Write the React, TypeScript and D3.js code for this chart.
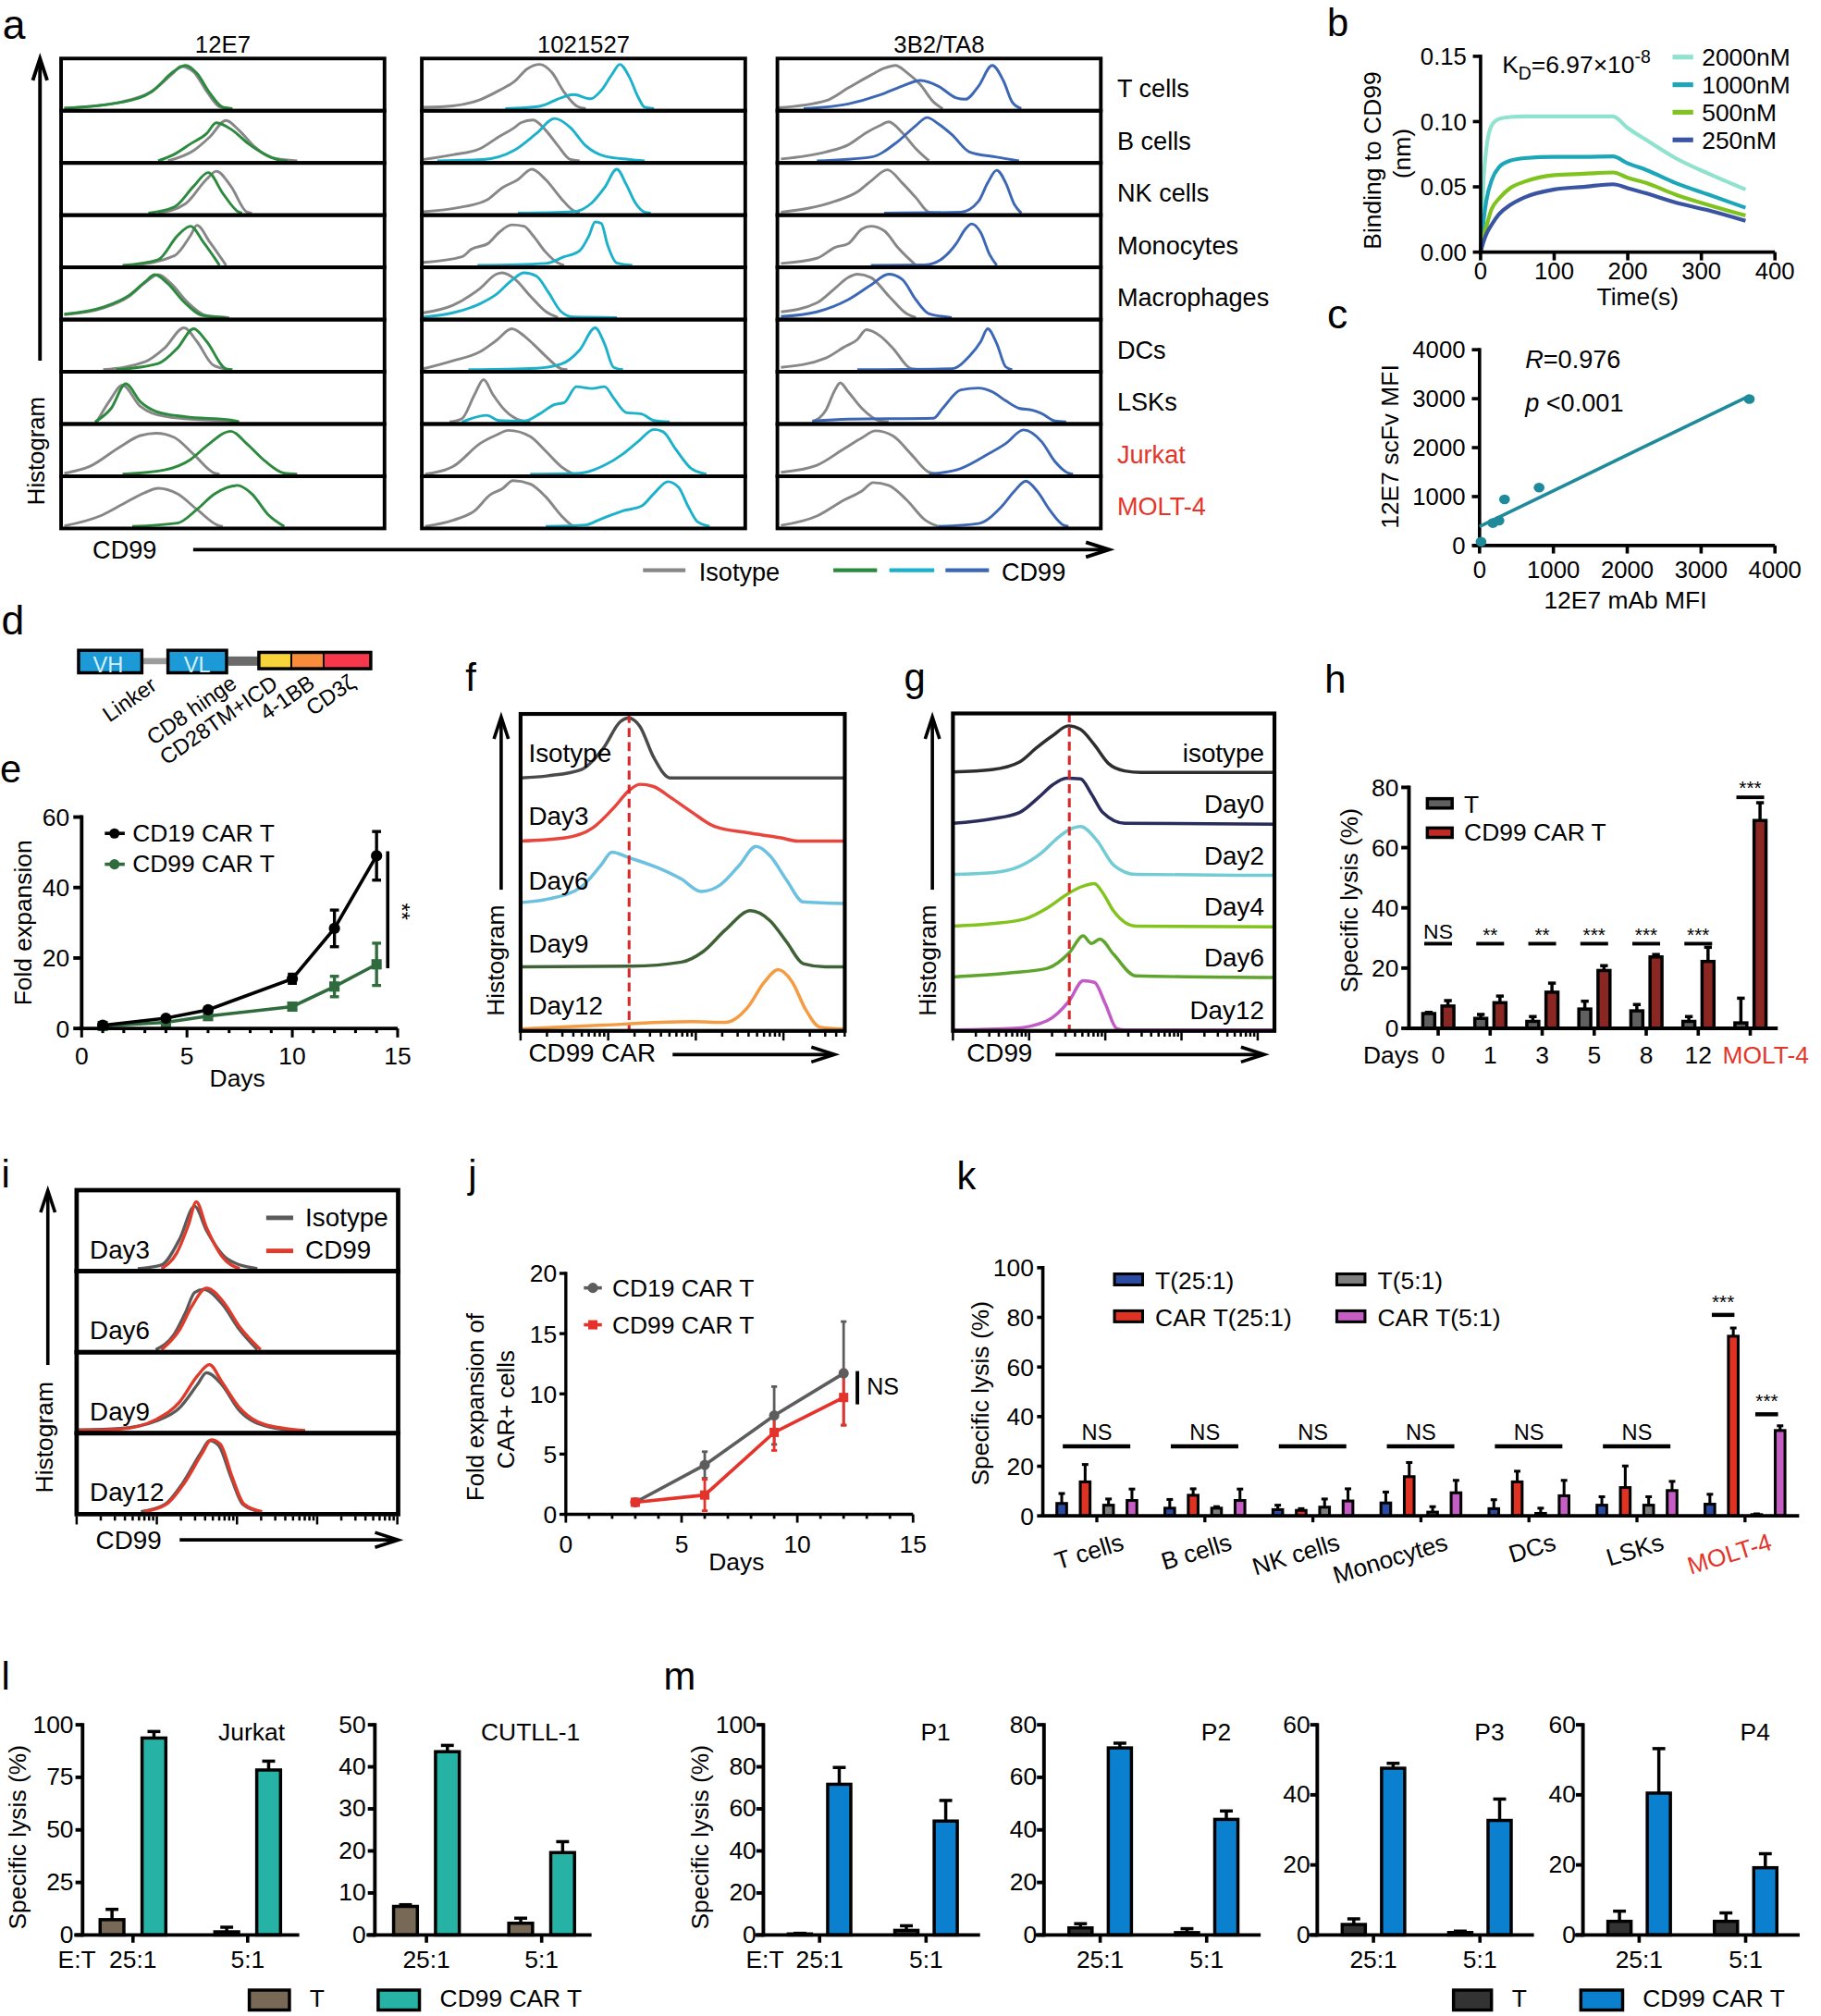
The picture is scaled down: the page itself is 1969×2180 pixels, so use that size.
import React from 'react';
import * as d3 from 'd3';

// ================= DATA =================
// ---- panel a (histograms: [x fraction of box, height fraction of row]) ----
const aCells = ['T cells', 'B cells', 'NK cells', 'Monocytes', 'Macrophages', 'DCs', 'LSKs', 'Jurkat', 'MOLT-4'];
const aClones = ['12E7', '1021527', '3B2/TA8'];

const a12E7Iso = [
  [[0.01,0.01],[0.19,0.15],[0.28,0.37],[0.35,0.78],[0.37,0.9],[0.41,0.78],[0.45,0.37],[0.49,0.04],[0.52,0]],
  [[0.33,0],[0.41,0.22],[0.46,0.51],[0.51,0.86],[0.55,0.65],[0.6,0.29],[0.65,0.07],[0.73,0]],
  [[0.3,0],[0.385,0.2],[0.45,0.72],[0.48,0.89],[0.525,0.57],[0.575,0.02],[0.59,0]],
  [[0.22,0],[0.35,0.2],[0.4,0.63],[0.42,0.85],[0.46,0.49],[0.51,0]],
  [[0.01,0.06],[0.13,0.2],[0.21,0.45],[0.26,0.74],[0.3,0.91],[0.34,0.72],[0.39,0.33],[0.45,0.04],[0.52,0]],
  [[0.13,0],[0.26,0.17],[0.32,0.46],[0.38,0.89],[0.42,0.6],[0.47,0.1],[0.52,0]],
  [[0.11,0],[0.15,0.45],[0.19,0.78],[0.245,0.33],[0.32,0.12],[0.4,0.06],[0.52,0.02],[0.55,0]],
  [[0.01,0.02],[0.09,0.17],[0.18,0.57],[0.245,0.82],[0.295,0.87],[0.35,0.78],[0.41,0.42],[0.475,0.02],[0.49,0]],
  [[0.01,0.01],[0.12,0.22],[0.19,0.47],[0.26,0.72],[0.3,0.81],[0.36,0.69],[0.42,0.36],[0.49,0.01],[0.5,0]],
];
const a12E7CD99 = [
  [[0.01,0.01],[0.19,0.14],[0.28,0.36],[0.35,0.8],[0.385,0.92],[0.42,0.75],[0.46,0.33],[0.5,0.03],[0.53,0]],
  [[0.3,0],[0.35,0.14],[0.4,0.36],[0.45,0.58],[0.48,0.81],[0.53,0.65],[0.58,0.36],[0.63,0.14],[0.68,0.01],[0.7,0]],
  [[0.27,0],[0.35,0.13],[0.41,0.57],[0.455,0.86],[0.5,0.42],[0.55,0.02],[0.56,0]],
  [[0.19,0],[0.3,0.12],[0.36,0.63],[0.4,0.83],[0.44,0.49],[0.49,0]],
  [[0.01,0.07],[0.13,0.22],[0.21,0.47],[0.26,0.76],[0.29,0.91],[0.33,0.72],[0.38,0.33],[0.44,0.04],[0.51,0]],
  [[0.17,0],[0.3,0.13],[0.36,0.46],[0.41,0.87],[0.45,0.6],[0.51,0.02],[0.53,0]],
  [[0.105,0],[0.155,0.29],[0.2,0.81],[0.245,0.43],[0.295,0.22],[0.385,0.11],[0.525,0.04],[0.55,0]],
  [[0.19,0],[0.32,0.09],[0.4,0.31],[0.45,0.6],[0.525,0.91],[0.575,0.64],[0.63,0.28],[0.69,0.02],[0.73,0]],
  [[0.22,0],[0.36,0.07],[0.42,0.36],[0.475,0.69],[0.545,0.87],[0.59,0.69],[0.64,0.25],[0.69,0]],
];
const a1021527Iso = [
  [[0.005,0.03],[0.096,0.06],[0.18,0.19],[0.24,0.39],[0.287,0.58],[0.325,0.84],[0.364,0.94],[0.402,0.77],[0.44,0.35],[0.478,0.06],[0.507,0]],
  [[0.005,0.03],[0.096,0.13],[0.18,0.26],[0.24,0.52],[0.287,0.71],[0.306,0.81],[0.344,0.87],[0.383,0.65],[0.421,0.32],[0.459,0.03],[0.488,0]],
  [[0.005,0.03],[0.115,0.12],[0.201,0.28],[0.249,0.54],[0.297,0.71],[0.34,0.93],[0.383,0.71],[0.431,0.31],[0.469,0.05],[0.488,0]],
  [[0.005,0.06],[0.124,0.18],[0.153,0.34],[0.206,0.47],[0.239,0.7],[0.278,0.86],[0.316,0.83],[0.344,0.63],[0.383,0.28],[0.421,0.05],[0.44,0]],
  [[0.005,0.1],[0.096,0.26],[0.182,0.63],[0.23,0.92],[0.249,0.95],[0.287,0.82],[0.335,0.46],[0.383,0.13],[0.421,0]],
  [[0.005,0.02],[0.096,0.19],[0.182,0.39],[0.23,0.62],[0.278,0.87],[0.316,0.72],[0.344,0.55],[0.383,0.29],[0.431,0.02],[0.45,0]],
  [[0.086,0],[0.124,0.07],[0.163,0.58],[0.191,0.9],[0.22,0.58],[0.258,0.24],[0.306,0.03],[0.335,0]],
  [[0.01,0],[0.096,0.16],[0.182,0.66],[0.23,0.83],[0.268,0.93],[0.335,0.8],[0.383,0.49],[0.431,0.16],[0.469,0]],
  [[0.01,0],[0.096,0.13],[0.163,0.33],[0.211,0.67],[0.249,0.8],[0.282,0.97],[0.335,0.9],[0.383,0.63],[0.431,0.23],[0.469,0.01],[0.48,0]],
];
const a1021527CD99 = [
  [[0.258,0],[0.364,0.05],[0.43,0.23],[0.469,0.3],[0.522,0.21],[0.555,0.39],[0.589,0.74],[0.612,0.94],[0.641,0.68],[0.67,0.23],[0.689,0.03],[0.718,0]],
  [[0.048,0],[0.191,0.03],[0.287,0.23],[0.354,0.58],[0.411,0.9],[0.459,0.71],[0.507,0.32],[0.565,0.1],[0.641,0.03],[0.689,0]],
  [[0.297,0],[0.469,0.03],[0.526,0.22],[0.565,0.54],[0.603,0.93],[0.632,0.61],[0.66,0.22],[0.689,0.02],[0.708,0]],
  [[0.172,0],[0.383,0.04],[0.44,0.18],[0.488,0.31],[0.517,0.63],[0.536,0.92],[0.555,0.89],[0.574,0.44],[0.603,0.05],[0.651,0]],
  [[0.005,0.01],[0.096,0.1],[0.182,0.3],[0.23,0.49],[0.278,0.79],[0.316,0.95],[0.354,0.88],[0.392,0.53],[0.43,0.13],[0.469,0.01],[0.603,0]],
  [[0.144,0],[0.354,0.03],[0.431,0.12],[0.488,0.42],[0.536,0.89],[0.565,0.55],[0.593,0.05],[0.622,0]],
  [[0.124,0],[0.201,0.14],[0.239,0.03],[0.316,0.02],[0.364,0.17],[0.411,0.37],[0.44,0.41],[0.478,0.75],[0.526,0.71],[0.565,0.75],[0.593,0.51],[0.632,0.2],[0.679,0.17],[0.718,0.03],[0.766,0]],
  [[0.335,0],[0.488,0.02],[0.565,0.19],[0.622,0.43],[0.67,0.7],[0.718,0.95],[0.746,0.9],[0.785,0.53],[0.833,0.12],[0.88,0]],
  [[0.383,0],[0.507,0.03],[0.545,0.13],[0.622,0.33],[0.679,0.43],[0.718,0.7],[0.761,0.95],[0.794,0.83],[0.823,0.43],[0.852,0.1],[0.89,0]],
];
const a3B2Iso = [
  [[0.004,0.02],[0.15,0.17],[0.219,0.44],[0.288,0.71],[0.331,0.86],[0.365,0.92],[0.4,0.77],[0.442,0.51],[0.483,0.14],[0.511,0]],
  [[0.011,0.04],[0.15,0.19],[0.219,0.34],[0.275,0.6],[0.317,0.75],[0.344,0.83],[0.386,0.6],[0.428,0.26],[0.469,0]],
  [[0.011,0.02],[0.178,0.25],[0.247,0.45],[0.289,0.68],[0.34,0.92],[0.386,0.64],[0.428,0.33],[0.469,0.02],[0.497,0]],
  [[0.011,0.04],[0.122,0.15],[0.178,0.38],[0.219,0.46],[0.261,0.77],[0.289,0.83],[0.331,0.73],[0.372,0.38],[0.428,0]],
  [[0.011,0.12],[0.122,0.31],[0.178,0.62],[0.219,0.85],[0.247,0.92],[0.289,0.85],[0.344,0.46],[0.4,0.08],[0.428,0]],
  [[0.011,0.05],[0.15,0.25],[0.206,0.48],[0.247,0.64],[0.275,0.85],[0.317,0.72],[0.358,0.45],[0.414,0.02],[0.442,0]],
  [[0.108,0],[0.15,0.25],[0.178,0.68],[0.194,0.83],[0.219,0.64],[0.261,0.29],[0.317,0.02],[0.344,0]],
  [[0.011,0.04],[0.122,0.19],[0.206,0.54],[0.261,0.77],[0.303,0.92],[0.358,0.81],[0.414,0.42],[0.469,0.04],[0.497,0]],
  [[0.011,0.02],[0.122,0.22],[0.206,0.56],[0.261,0.75],[0.296,0.93],[0.344,0.87],[0.4,0.56],[0.456,0.14],[0.497,0]],
];
const a3B2CD99 = [
  [[0.081,0],[0.219,0.1],[0.317,0.29],[0.386,0.48],[0.442,0.6],[0.497,0.48],[0.553,0.23],[0.581,0.2],[0.622,0.48],[0.664,0.92],[0.699,0.59],[0.726,0.14],[0.754,0]],
  [[0.122,0],[0.289,0.08],[0.372,0.41],[0.428,0.75],[0.463,0.92],[0.497,0.79],[0.539,0.56],[0.594,0.19],[0.678,0.08],[0.747,0]],
  [[0.33,0],[0.567,0.02],[0.622,0.25],[0.65,0.64],[0.678,0.91],[0.706,0.64],[0.733,0.18],[0.754,0]],
  [[0.289,0],[0.456,0.01],[0.511,0.15],[0.553,0.46],[0.581,0.77],[0.601,0.88],[0.629,0.69],[0.656,0.23],[0.678,0]],
  [[0.011,0.02],[0.122,0.12],[0.219,0.38],[0.289,0.69],[0.344,0.92],[0.386,0.81],[0.428,0.38],[0.469,0.08],[0.539,0]],
  [[0.247,0],[0.539,0.02],[0.594,0.29],[0.629,0.6],[0.65,0.87],[0.678,0.56],[0.706,0.06],[0.726,0]],
  [[0.108,0.02],[0.219,0.06],[0.483,0.08],[0.511,0.29],[0.567,0.68],[0.622,0.72],[0.664,0.64],[0.706,0.45],[0.747,0.29],[0.789,0.25],[0.817,0.18],[0.858,0.02],[0.893,0]],
  [[0.469,0],[0.567,0.12],[0.65,0.42],[0.706,0.65],[0.761,0.94],[0.817,0.69],[0.858,0.27],[0.9,0.02],[0.914,0]],
  [[0.497,0],[0.622,0.06],[0.692,0.41],[0.733,0.75],[0.768,0.96],[0.803,0.75],[0.844,0.33],[0.886,0.02],[0.9,0]],
];

// ---- panel b ----
const bTime = [0, 4, 8, 15, 25, 40, 60, 100, 140, 180, 200, 225, 265, 310, 360];
const bConc = ['2000nM', '1000nM', '500nM', '250nM'];
const b2000 = [0, 0.055, 0.08, 0.097, 0.102, 0.1035, 0.104, 0.104, 0.104, 0.104, 0.095, 0.086, 0.072, 0.06, 0.048];
const b1000 = [0, 0.024, 0.04, 0.055, 0.065, 0.07, 0.072, 0.073, 0.073, 0.0733, 0.068, 0.063, 0.053, 0.044, 0.034];
const b500 = [0, 0.012, 0.02, 0.033, 0.041, 0.049, 0.054, 0.059, 0.06, 0.061, 0.057, 0.053, 0.044, 0.036, 0.028];
const b250 = [0, 0.008, 0.014, 0.021, 0.029, 0.036, 0.042, 0.048, 0.05, 0.052, 0.049, 0.045, 0.038, 0.032, 0.024];

// ---- panel c ----
const cMabMFI = [20, 180, 263, 338, 806, 3653];
const cScfvMFI = [80, 459, 507, 942, 1183, 2994];

// ---- panel d ----
const dLabels = ['Linker', 'CD8 hinge', 'CD28TM+ICD', '4-1BB', 'CD3ζ'];

// ---- panel e ----
const eDays = [1, 4, 6, 10, 12, 14];
const eCD19 = [0.9, 2.9, 5.3, 14.1, 28.4, 49.0];
const eCD19Err = [0.3, 0.6, 0.5, 1.3, 5.2, 6.9];
const eCD99 = [0.7, 1.75, 3.5, 6.2, 11.9, 18.2];
const eCD99Err = [0.3, 0.4, 0.5, 0.6, 2.9, 6.0];

// ---- panel f (points: [x fraction, y fraction from box top]) ----
const fLabels = ['Isotype', 'Day3', 'Day6', 'Day9', 'Day12'];
const fIsotype = [[0,0.202],[0.085,0.195],[0.188,0.175],[0.256,0.107],[0.308,0.024],[0.333,0.013],[0.368,0.039],[0.41,0.136],[0.462,0.202],[1,0.202]];
const fDay3 = [[0,0.401],[0.137,0.391],[0.222,0.36],[0.291,0.292],[0.333,0.243],[0.368,0.222],[0.41,0.229],[0.462,0.263],[0.53,0.311],[0.598,0.355],[0.701,0.375],[0.803,0.391],[0.855,0.401],[1,0.401]];
const fDay6 = [[0,0.595],[0.085,0.584],[0.188,0.545],[0.248,0.477],[0.282,0.436],[0.333,0.453],[0.427,0.487],[0.496,0.521],[0.556,0.56],[0.615,0.54],[0.675,0.477],[0.726,0.418],[0.769,0.447],[0.821,0.525],[0.872,0.593],[1,0.598]];
const fDay9 = [[0,0.798],[0.342,0.796],[0.496,0.783],[0.564,0.749],[0.632,0.681],[0.709,0.621],[0.769,0.652],[0.821,0.72],[0.872,0.788],[0.94,0.798],[1,0.798]];
const fDay12 = [[0,0.994],[0.256,0.982],[0.427,0.973],[0.53,0.971],[0.632,0.973],[0.701,0.925],[0.752,0.846],[0.795,0.807],[0.838,0.846],[0.88,0.934],[0.923,0.988],[1,0.994]];

// ---- panel g ----
const gLabels = ['isotype', 'Day0', 'Day2', 'Day4', 'Day6', 'Day12'];
const gIsotype = [[0,0.184],[0.121,0.177],[0.207,0.153],[0.259,0.109],[0.31,0.07],[0.359,0.039],[0.397,0.05],[0.44,0.099],[0.483,0.157],[0.534,0.181],[0.586,0.186],[1,0.186]];
const gDay0 = [[0,0.346],[0.121,0.332],[0.207,0.312],[0.267,0.264],[0.31,0.225],[0.353,0.204],[0.397,0.206],[0.431,0.254],[0.466,0.312],[0.534,0.346],[1,0.349]];
const gDay2 = [[0,0.507],[0.121,0.502],[0.207,0.482],[0.276,0.439],[0.328,0.39],[0.362,0.366],[0.397,0.356],[0.448,0.4],[0.5,0.478],[0.569,0.507],[1,0.51]];
const gDay4 = [[0,0.67],[0.121,0.662],[0.224,0.647],[0.293,0.613],[0.362,0.565],[0.397,0.547],[0.44,0.536],[0.466,0.565],[0.5,0.623],[0.569,0.67],[1,0.672]];
const gDay6 = [[0,0.83],[0.172,0.818],[0.293,0.803],[0.362,0.754],[0.405,0.701],[0.431,0.725],[0.457,0.711],[0.5,0.759],[0.569,0.827],[1,0.832]];
const gDay12 = [[0,0.997],[0.19,0.992],[0.293,0.968],[0.362,0.905],[0.405,0.842],[0.44,0.847],[0.474,0.915],[0.509,0.992],[0.534,0.997],[1,0.997]];

// ---- panel h ----
const hGroups = ['0', '1', '3', '5', '8', '12', 'MOLT-4'];
const hT = [4.9, 3.3, 2.3, 6.4, 5.8, 2.3, 1.8];
const hTErr = [0.4, 1.3, 1.6, 2.6, 2.1, 1.6, 8.2];
const hCAR = [7.4, 8.5, 12, 19.2, 23.7, 22.2, 69];
const hCARErr = [1.8, 2.2, 3, 1.6, 0.8, 4.7, 5.9];
const hSig = ['NS', '**', '**', '***', '***', '***', '***'];

// ---- panel i ----
const iDays = ['Day3', 'Day6', 'Day9', 'Day12'];
const iIsotype = [
  [[0.19,0],[0.264,0.05],[0.32,0.4],[0.367,0.85],[0.404,0.52],[0.469,0.13],[0.562,0]],
  [[0.246,0],[0.302,0.2],[0.339,0.51],[0.367,0.78],[0.395,0.82],[0.451,0.63],[0.507,0.27],[0.562,0]],
  [[0.004,0.01],[0.134,0.03],[0.246,0.13],[0.32,0.31],[0.376,0.63],[0.404,0.79],[0.451,0.63],[0.507,0.27],[0.6,0.05],[0.693,0]],
  [[0.2,0],[0.275,0.1],[0.33,0.39],[0.386,0.8],[0.414,0.97],[0.442,0.9],[0.48,0.47],[0.517,0.1],[0.57,0]],
];
const iCD99 = [
  [[0.264,0],[0.311,0.21],[0.348,0.6],[0.372,0.91],[0.404,0.56],[0.451,0.17],[0.507,0]],
  [[0.264,0],[0.32,0.27],[0.358,0.59],[0.404,0.84],[0.46,0.63],[0.507,0.31],[0.572,0]],
  [[0.004,0],[0.134,0.02],[0.246,0.15],[0.32,0.39],[0.376,0.75],[0.413,0.9],[0.451,0.67],[0.507,0.31],[0.581,0.09],[0.711,0]],
  [[0.209,0],[0.279,0.1],[0.335,0.39],[0.391,0.8],[0.419,0.98],[0.447,0.92],[0.484,0.47],[0.521,0.1],[0.577,0]],
];

// ---- panel j ----
const jDays = [3, 6, 9, 12];
const jCD19 = [1.0, 4.1, 8.2, 11.7];
const jCD19Err = [0.2, 1.1, 2.4, 4.3];
const jCD99 = [1.0, 1.6, 6.8, 9.7];
const jCD99Err = [0.2, 1.3, 1.5, 2.3];

// ---- panel k ----
const kCells = ['T cells', 'B cells', 'NK cells', 'Monocytes', 'DCs', 'LSKs', 'MOLT-4'];
const kSeries = ['T(25:1)', 'CAR T(25:1)', 'T(5:1)', 'CAR T(5:1)'];
const kT25 = [5, 3.1, 2.5, 5.2, 2.9, 4.3, 4.7];
const kT25Err = [4, 3.5, 1.8, 4.4, 3.6, 3.4, 4];
const kCAR25 = [13.7, 8.3, 2.2, 15.8, 13.7, 11.4, 72.4];
const kCAR25Err = [7, 2.6, 0.7, 5.7, 4.3, 8.7, 3.3];
const kT5 = [4.3, 3.1, 3.5, 1.5, 1, 4.3, 0.5];
const kT5Err = [2.5, 0.6, 3.3, 2.2, 2.1, 3.4, 0.3];
const kCAR5 = [6.2, 6.2, 6, 9.3, 8.1, 10.2, 34.4];
const kCAR5Err = [4.6, 4.6, 4.9, 5, 6.2, 3.7, 1.9];
const kSig = ['NS', 'NS', 'NS', 'NS', 'NS', 'NS', '***'];

// ---- panel l ----
const lRatios = ['25:1', '5:1'];
const lJurkatT = [7.3, 1.5];
const lJurkatTErr = [4.9, 2.2];
const lJurkatCAR = [93.7, 78.5];
const lJurkatCARErr = [3.1, 4.2];
const lCutllT = [6.8, 2.8];
const lCutllTErr = [0.4, 1.2];
const lCutllCAR = [43.6, 19.6];
const lCutllCARErr = [1.5, 2.6];

// ---- panel m ----
const mPatients = ['P1', 'P2', 'P3', 'P4'];
const mMax = [100, 80, 60, 60];
const mT = [[0.5, 2.2], [2.7, 0.9], [3.0, 0.7], [3.9, 3.9]];
const mTErr = [[0.3, 2.2], [1.6, 1.5], [1.6, 0.4], [2.9, 2.4]];
const mCAR = [[71.7, 54.2], [71.2, 44.0], [47.6, 32.7], [40.5, 19.2]];
const mCARErr = [[8.0, 9.8], [1.8, 3.2], [1.4, 6.1], [12.7, 4.0]];

// ================= HELPERS =================
const FONT = "'Liberation Sans', Arial, Helvetica, sans-serif";

const Txt = ({ x, y, s = 19, a = 'start', c = '#000', r = 0, it = false, children }: any) => (
  <text x={x} y={y} fontSize={s} textAnchor={a} fill={c} fontFamily={FONT}
    fontStyle={it ? 'italic' : undefined}
    transform={r ? `rotate(${r} ${x} ${y})` : undefined}>{children}</text>
);

const monoPath = (pts: number[][], fx: (v: number) => number, fy: (v: number) => number) =>
  d3.line<number[]>().x((p) => fx(p[0])).y((p) => fy(p[1])).curve(d3.curveMonotoneX)(pts) || '';

const ArrowUp = ({ x, yBot, yTip, sw = 2.6 }: any) => (
  <g stroke="#000" strokeWidth={sw} fill="none">
    <line x1={x} x2={x} y1={yBot} y2={yTip + 1} />
    <polyline points={`${x - 5.6},${yTip + 17} ${x},${yTip} ${x + 5.6},${yTip + 17}`} />
  </g>
);
const ArrowRight = ({ x1, x2, y, sw = 2.6 }: any) => (
  <g stroke="#000" strokeWidth={sw} fill="none">
    <line x1={x1} x2={x2 - 1} y1={y} y2={y} />
    <polyline points={`${x2 - 18},${y - 5.8} ${x2},${y} ${x2 - 18},${y + 5.8}`} />
  </g>
);

const YAxis = ({ x, sc, ticks, fmt = (d: any) => String(d), tl = 6, lo = 9, s = 19, sw = 2.6, dy = 0.36 }: any) => {
  const [r0, r1] = sc.range();
  return (
    <g>
      <line x1={x} x2={x} y1={r0 + sw / 2} y2={r1 - sw / 2} stroke="#000" strokeWidth={sw} />
      {ticks.map((t: number) => (
        <g key={t}>
          <line x1={x - tl} x2={x} y1={sc(t)} y2={sc(t)} stroke="#000" strokeWidth={sw} />
          <Txt x={x - lo} y={sc(t) + s * dy} a="end" s={s}>{fmt(t)}</Txt>
        </g>
      ))}
    </g>
  );
};

const LogTicks = ({ x0, x1, decades, y, major = 6.5, minor = 3.5, sw = 1.8 }: any) => {
  const s = d3.scaleLog().domain([1, Math.pow(10, decades)]).range([x0, x1]);
  const ticks = s.ticks();
  return (
    <g stroke="#000" strokeWidth={sw}>
      {ticks.map((t: number, i: number) => {
        const lg = Math.log10(t);
        const isMaj = Math.abs(lg - Math.round(lg)) < 1e-6;
        return <line key={i} x1={s(t)} x2={s(t)} y1={y} y2={y + (isMaj ? major : minor)} />;
      })}
    </g>
  );
};

const Bar = ({ cx, w, v, err, y, fill, sw = 2.5, cap = 6 }: any) => {
  const top = y(v), base = y(0);
  const et = y(v + err);
  return (
    <g>
      {err > 0 && <line x1={cx} x2={cx} y1={top} y2={et} stroke="#000" strokeWidth={sw} />}
      {err > 0 && <line x1={cx - cap / 2} x2={cx + cap / 2} y1={et} y2={et} stroke="#000" strokeWidth={sw} />}
      <rect x={cx - w / 2 + sw / 2} y={top} width={w - sw} height={Math.max(0.5, base - top)} fill={fill} stroke="#000" strokeWidth={sw} />
    </g>
  );
};

const ErrV = ({ x, y1, y2, cw = 7, sw = 2.2, c = '#000' }: any) => (
  <g stroke={c} strokeWidth={sw}>
    <line x1={x} x2={x} y1={y1} y2={y2} />
    <line x1={x - cw / 2} x2={x + cw / 2} y1={y1} y2={y1} />
    <line x1={x - cw / 2} x2={x + cw / 2} y1={y2} y2={y2} />
  </g>
);

// ================= PANELS =================
function PanelA() {
  const lefts = [47.5, 328, 604.5];
  const W = 251.5, top = 45.5, bot = 411;
  const rh = (bot - top) / 9;
  const sets: any[] = [
    [a12E7Iso, a12E7CD99, '#2b8a3d'],
    [a1021527Iso, a1021527CD99, '#1cb1ca'],
    [a3B2Iso, a3B2CD99, '#3b67b5'],
  ];
  return (
    <g>
      <Txt x={2} y={30} s={32}>a</Txt>
      {aClones.map((title, ci) => {
        const x0 = lefts[ci];
        const xs = d3.scaleLinear().domain([0, 1]).range([x0, x0 + W]);
        const [iso, cd, col] = sets[ci];
        return (
          <g key={title}>
            <Txt x={x0 + W / 2} y={41} a="middle" s={18.5}>{title}</Txt>
            {aCells.map((cell, ri) => {
              const rt = top + ri * rh;
              const base = rt + rh - 1.6;
              const hh = rh - 4;
              const ys = (v: number) => base - v * hh;
              return (
                <g key={cell}>
                  <path d={monoPath(iso[ri], xs, ys)} fill="none" stroke="#878787" strokeWidth={2.1} />
                  <path d={monoPath(cd[ri], xs, ys)} fill="none" stroke={col} strokeWidth={2.1} />
                </g>
              );
            })}
            {aCells.map((cell, ri) => (
              <rect key={'b' + ri} x={x0} y={top + ri * rh} width={W} height={rh} fill="none" stroke="#000" strokeWidth={2.8} />
            ))}
          </g>
        );
      })}
      {aCells.map((cell, ri) => (
        <Txt key={cell} x={868.7} y={top + ri * rh + rh / 2 + 10} s={19.5} c={ri >= 7 ? '#e2362b' : '#000'}>{cell}</Txt>
      ))}
      <ArrowUp x={31.1} yBot={280.5} yTip={45.5} sw={2.8} />
      <Txt x={34.5} y={350.7} a="middle" r={-90} s={18.5}>Histogram</Txt>
      <Txt x={72} y={434.3} s={19.5}>CD99</Txt>
      <ArrowRight x1={150.2} x2={862.4} y={427.5} sw={2.8} />
      <line x1={500} x2={533} y1={443.5} y2={443.5} stroke="#878787" strokeWidth={3} />
      <Txt x={543.5} y={451.5} s={19.5}>Isotype</Txt>
      <line x1={648} x2={682} y1={443.5} y2={443.5} stroke="#2b8a3d" strokeWidth={3} />
      <line x1={691.6} x2={726.5} y1={443.5} y2={443.5} stroke="#1cb1ca" strokeWidth={3} />
      <line x1={735.2} x2={769} y1={443.5} y2={443.5} stroke="#3b67b5" strokeWidth={3} />
      <Txt x={778.8} y={451.5} s={19.5}>CD99</Txt>
    </g>
  );
}

function PanelB() {
  const x = d3.scaleLinear().domain([0, 400]).range([1151.3, 1380.2]);
  const y = d3.scaleLinear().domain([0, 0.15]).range([196.1, 43.8]);
  const series = [b2000, b1000, b500, b250];
  const cols = ['#8fe2cd', '#1ca7b9', '#80c31f', '#3a54a4'];
  const ln = d3.line<number>().x((_, i) => x(bTime[i])).y((d) => y(d)).curve(d3.curveMonotoneX);
  const legY = [44.4, 65.9, 87.3, 108.8];
  return (
    <g>
      <Txt x={1032} y={28} s={30}>b</Txt>
      {series.map((s, i) => (
        <path key={i} d={ln(s) || ''} fill="none" stroke={cols[i]} strokeWidth={3} />
      ))}
      <YAxis x={1151.3} sc={y} ticks={[0, 0.05, 0.1, 0.15]} fmt={d3.format('.2f')} tl={6} lo={10.8} s={18.5} />
      <line x1={1150} x2={1380.2} y1={196.1} y2={196.1} stroke="#000" strokeWidth={2.6} />
      {[0, 100, 200, 300, 400].map((t) => (
        <g key={t}>
          <line x1={x(t)} x2={x(t)} y1={196.1} y2={202.5} stroke="#000" strokeWidth={2.6} />
          <Txt x={x(t)} y={217.5} a="middle" s={18.5}>{t}</Txt>
        </g>
      ))}
      <Txt x={1273.5} y={237.4} a="middle" s={19}>Time(s)</Txt>
      <Txt x={1074} y={124.8} a="middle" r={-90} s={19}>Binding to CD99</Txt>
      <Txt x={1097} y={119.5} a="middle" r={-90} s={19}>(nm)</Txt>
      <text x={1168} y={56.7} fontSize={19} fontFamily={FONT}>K<tspan fontSize={14} dy={5}>D</tspan><tspan dy={-5}>=6.97×10</tspan><tspan fontSize={14} dy={-8}>-8</tspan></text>
      {bConc.map((c, i) => (
        <g key={c}>
          <line x1={1300.6} x2={1316.6} y1={legY[i]} y2={legY[i]} stroke={cols[i]} strokeWidth={3.7} />
          <Txt x={1323.4} y={legY[i] + 6.8} s={19}>{c}</Txt>
        </g>
      ))}
    </g>
  );
}

function PanelC() {
  const x = d3.scaleLinear().domain([0, 4000]).range([1150.5, 1380.2]);
  const y = d3.scaleLinear().domain([0, 4000]).range([424.3, 272]);
  const reg = (() => {
    const mx = d3.mean(cMabMFI) as number, my = d3.mean(cScfvMFI) as number;
    let sxy = 0, sxx = 0;
    cMabMFI.forEach((v, i) => { sxy += (v - mx) * (cScfvMFI[i] - my); sxx += (v - mx) * (v - mx); });
    const b = sxy / sxx; return { b, a: my - b * mx };
  })();
  const xMin = 0, xMax = d3.max(cMabMFI) as number;
  const col = '#1f8b9a';
  return (
    <g>
      <Txt x={1032} y={255} s={32}>c</Txt>
      <YAxis x={1150.5} sc={y} ticks={[0, 1000, 2000, 3000, 4000]} tl={6} lo={11} s={18.5} />
      <line x1={1145.3} x2={1380.2} y1={424.3} y2={424.3} stroke="#000" strokeWidth={2.6} />
      {[0, 1000, 2000, 3000, 4000].map((t) => (
        <g key={t}>
          <line x1={x(t)} x2={x(t)} y1={424.3} y2={430.5} stroke="#000" strokeWidth={2.6} />
          <Txt x={x(t)} y={449.3} a="middle" s={18.5}>{t}</Txt>
        </g>
      ))}
      <line x1={x(xMin)} x2={x(xMax)} y1={y(reg.a + reg.b * xMin)} y2={y(reg.a + reg.b * xMax)} stroke={col} strokeWidth={2.6} />
      {cMabMFI.map((v, i) => (
        <ellipse key={i} cx={x(v)} cy={y(cScfvMFI[i])} rx={4.2} ry={3.8} fill={col} />
      ))}
      <Txt x={1263.9} y={473.3} a="middle" s={19}>12E7 mAb MFI</Txt>
      <Txt x={1087.5} y={347.4} a="middle" r={-90} s={19}>12E7 scFv MFI</Txt>
      <text x={1186} y={286.5} fontSize={19.5} fontFamily={FONT}><tspan fontStyle="italic">R</tspan>=0.976</text>
      <text x={1186} y={320.2} fontSize={19.5} fontFamily={FONT}><tspan fontStyle="italic">p</tspan> &lt;0.001</text>
    </g>
  );
}

function PanelD() {
  const y0 = 504.6, y1 = 524.5;
  const starts = [[85.1, 562.1], [119.4, 580.1], [129.4, 595.6], [207.3, 560.9], [243.3, 557.3]];
  return (
    <g>
      <Txt x={1} y={493.6} s={32}>d</Txt>
      <rect x={111.5} y={511.8} width={17.9} height={4.8} fill="#9c9c9c" stroke="none" />
      <rect x={177.4} y={510.6} width={23.5} height={7.2} fill="#6a6a6a" stroke="none" />
      <rect x={61.1} y={y0 + 1.2} width={49.2} height={y1 - y0 - 2.4} fill="#1b9ad7" stroke="#000" strokeWidth={2.5} />
      <rect x={130.6} y={y0 + 1.2} width={45.6} height={y1 - y0 - 2.4} fill="#1b9ad7" stroke="#000" strokeWidth={2.5} />
      <rect x={201.3} y={507.4} width={25.2} height={12.7} fill="#f7d43a" stroke="#000" strokeWidth={1.4} />
      <rect x={226.5} y={507.4} width={25.2} height={12.7} fill="#f98c3b" stroke="#000" strokeWidth={1.4} />
      <rect x={251.7} y={507.4} width={36.6} height={12.7} fill="#f7374b" stroke="#000" strokeWidth={1.4} />
      <rect x={201.3} y={507.4} width={87} height={12.7} fill="none" stroke="#000" strokeWidth={2.5} />
      <Txt x={84} y={522.6} a="middle" s={17} c="#d6eefb">VH</Txt>
      <Txt x={153.4} y={522.6} a="middle" s={17} c="#d6eefb">VL</Txt>
      {dLabels.map((l, i) => (
        <Txt key={l} x={starts[i][0]} y={starts[i][1]} a="start" r={-35} s={17}>{l}</Txt>
      ))}
    </g>
  );
}

function PanelE() {
  const x = d3.scaleLinear().domain([0, 15]).range([63.5, 309.2]);
  const y = d3.scaleLinear().domain([0, 60]).range([799.9, 635.5]);
  const ln = d3.line<number>().x((_, i) => x(eDays[i])).y((d) => y(d));
  const green = '#2f6b3c';
  return (
    <g>
      <Txt x={0} y={608.6} s={30}>e</Txt>
      <path d={ln(eCD99) || ''} fill="none" stroke={green} strokeWidth={2.6} />
      <path d={ln(eCD19) || ''} fill="none" stroke="#000" strokeWidth={2.6} />
      {eDays.map((d, i) => (
        <g key={'g' + i}>
          {eCD99Err[i] > 0.8 && <ErrV x={x(d)} y1={y(eCD99[i] + eCD99Err[i])} y2={y(eCD99[i] - eCD99Err[i])} c={green} sw={2.4} />}
          <rect x={x(d) - 4} y={y(eCD99[i]) - 4} width={8} height={8} fill={green} />
        </g>
      ))}
      {eDays.map((d, i) => (
        <g key={'k' + i}>
          {eCD19Err[i] > 0.8 && <ErrV x={x(d)} y1={y(eCD19[i] + eCD19Err[i])} y2={y(eCD19[i] - eCD19Err[i])} sw={2.4} />}
          <circle cx={x(d)} cy={y(eCD19[i])} r={4.4} fill="#000" />
        </g>
      ))}
      <YAxis x={63.5} sc={y} ticks={[0, 20, 40, 60]} tl={6.5} lo={9.5} s={19} sw={2.8} />
      <line x1={62} x2={309.2} y1={799.9} y2={799.9} stroke="#000" strokeWidth={2.8} />
      {d3.range(0, 16).map((t) => (
        <line key={t} x1={x(t)} x2={x(t)} y1={799.9} y2={799.9 + (t % 5 === 0 ? 7 : 3.6)} stroke="#000" strokeWidth={2.2} />
      ))}
      {[0, 5, 10, 15].map((t) => (
        <Txt key={t} x={x(t)} y={828} a="middle" s={19}>{t}</Txt>
      ))}
      <Txt x={184.6} y={844.8} a="middle" s={19}>Days</Txt>
      <Txt x={24.3} y={717.7} a="middle" r={-90} s={19}>Fold expansion</Txt>
      <line x1={81.5} x2={97} y1={648.2} y2={648.2} stroke="#000" strokeWidth={2.6} />
      <circle cx={89} cy={648.2} r={4} fill="#000" />
      <Txt x={103} y={654.4} s={19}>CD19 CAR T</Txt>
      <line x1={81.5} x2={97} y1={672.2} y2={672.2} stroke={green} strokeWidth={2.6} />
      <circle cx={89} cy={672.2} r={4} fill={green} />
      <Txt x={103} y={678.3} s={19}>CD99 CAR T</Txt>
      <line x1={301.5} x2={301.5} y1={y(50.3)} y2={y(17.1)} stroke="#000" strokeWidth={2.6} />
      <Txt x={306.5} y={709} a="middle" r={90} s={17}>**</Txt>
    </g>
  );
}

function StackHist({ x0, y0, w, h, curves, cols, labels, labelX, labelYs, anchor, dashX, decades, letter, letterX, histX, axisLabel, arrowX1, arrowBaseX }: any) {
  const xs = d3.scaleLinear().domain([0, 1]).range([x0, x0 + w]);
  const ys = d3.scaleLinear().domain([0, 1]).range([y0, y0 + h]);
  return (
    <g>
      <Txt x={letterX} y={537.4} s={30}>{letter}</Txt>
      {curves.map((c: number[][], i: number) => (
        <path key={i} d={monoPath(c, xs, ys)} fill="none" stroke={cols[i]} strokeWidth={2.5} />
      ))}
      <line x1={dashX} x2={dashX} y1={y0} y2={y0 + h} stroke="#d62a2a" strokeWidth={2.2} strokeDasharray="7 4" />
      <rect x={x0} y={y0} width={w} height={h} fill="none" stroke="#000" strokeWidth={3} />
      <LogTicks x0={x0} x1={x0 + w} decades={decades} y={y0 + h + 1} />
      {labels.map((l: string, i: number) => (
        <Txt key={l} x={labelX} y={labelYs[i]} a={anchor} s={20}>{l}</Txt>
      ))}
      <ArrowUp x={histX} yBot={692} yTip={557.7} sw={2.6} />
      <Txt x={histX + 2.5} y={747.1} a="middle" r={-90} s={19}>Histogram</Txt>
      <Txt x={arrowBaseX} y={826} s={20}>{axisLabel}</Txt>
      <ArrowRight x1={arrowX1} x2={x0 + w - 8} y={820.2} sw={2.6} />
    </g>
  );
}

function PanelF() {
  return (
    <StackHist x0={404.8} y0={555.3} w={252.1} h={246.5}
      curves={[fIsotype, fDay3, fDay6, fDay9, fDay12]}
      cols={['#4a4a4a', '#e8453c', '#6cc0e0', '#3f6136', '#f59b42']}
      labels={fLabels} labelX={411} labelYs={[592.5, 641.6, 692, 741, 789]} anchor="start"
      dashX={489.2} decades={3.7} letter="f" letterX={362} histX={389.7}
      axisLabel="CD99 CAR" arrowBaseX={411} arrowX1={523} />
  );
}

function PanelG() {
  return (
    <StackHist x0={741} y0={554.9} w={250} h={246.9}
      curves={[gIsotype, gDay0, gDay2, gDay4, gDay6, gDay12]}
      cols={['#2e2e2e', '#2a2c5c', '#73ccd4', '#82c31d', '#5fa52d', '#c35bc6']}
      labels={gLabels} labelX={983} labelYs={[592.5, 632, 672.8, 712.3, 751.9, 792.6]} anchor="end"
      dashX={831.5} decades={4.22} letter="g" letterX={703} histX={725}
      axisLabel="CD99" arrowBaseX={751.7} arrowX1={820.7} />
  );
}

function PanelH() {
  const y = d3.scaleLinear().domain([0, 80]).range([799.8, 612.4]);
  const xc = d3.scalePoint().domain(hGroups).range([1118.3, 1361]);
  const gray = '#606060', red = '#8b2722';
  return (
    <g>
      <Txt x={1030} y={538.6} s={30}>h</Txt>
      {hGroups.map((g, i) => {
        const c = xc(g) as number;
        return (
          <g key={g}>
            <Bar cx={c - 7.3} w={11.8} v={hT[i]} err={hTErr[i]} y={y} fill={gray} cap={6} />
            <Bar cx={c + 7.6} w={11.8} v={hCAR[i]} err={hCARErr[i]} y={y} fill={red} cap={6} />
          </g>
        );
      })}
      <YAxis x={1095.6} sc={y} ticks={[0, 20, 40, 60, 80]} tl={6} lo={8} s={19} sw={2.8} />
      <line x1={1093} x2={1382.4} y1={799.8} y2={799.8} stroke="#000" strokeWidth={2.8} />
      {hGroups.map((g, i) => {
        const c = xc(g) as number;
        const by = i < 6 ? y(28.1) : y(76.7);
        return (
          <g key={'s' + g}>
            <line x1={c} x2={c} y1={799.8} y2={805.5} stroke="#000" strokeWidth={2.6} />
            <line x1={c - 10.8} x2={c + 10.8} y1={by} y2={by} stroke="#000" strokeWidth={2.8} />
            <Txt x={c} y={by - (hSig[i] === 'NS' ? 4 : 2)} a="middle" s={hSig[i] === 'NS' ? 16.5 : 15}>{hSig[i]}</Txt>
            {i < 6 ? <Txt x={c} y={827.4} a="middle" s={19}>{g}</Txt> : <Txt x={1373} y={827.4} a="middle" s={19} c="#e2362b">{g}</Txt>}
          </g>
        );
      })}
      <Txt x={1060} y={827.4} s={19}>Days</Txt>
      <Txt x={1055.5} y={700.4} a="middle" r={-90} s={19}>Specific lysis (%)</Txt>
      <rect x={1109.9} y={621.2} width={19.3} height={7.3} fill={gray} stroke="#000" strokeWidth={2.5} />
      <Txt x={1138.5} y={632.5} s={19}>T</Txt>
      <rect x={1109.9} y={644} width={19.3} height={7.3} fill="#c42a25" stroke="#000" strokeWidth={2.5} />
      <Txt x={1138.5} y={653.8} s={19}>CD99 CAR T</Txt>
    </g>
  );
}

function PanelI() {
  const x0 = 59.6, w = 250, top = 925.7, rh = 63;
  const xs = d3.scaleLinear().domain([0, 1]).range([x0, x0 + w]);
  return (
    <g>
      <Txt x={1} y={923.8} s={30}>i</Txt>
      {iDays.map((d, r) => {
        const rt = top + r * rh;
        const base = rt + rh - 2;
        const ys = (v: number) => base - v * (rh - 6);
        return (
          <g key={d}>
            <path d={monoPath(iIsotype[r], xs, ys)} fill="none" stroke="#5a5a5a" strokeWidth={2.4} />
            <path d={monoPath(iCD99[r], xs, ys)} fill="none" stroke="#e03a2a" strokeWidth={2.4} />
            <rect x={x0} y={rt} width={w} height={rh} fill="none" stroke="#000" strokeWidth={3.4} />
            <Txt x={69.8} y={rt + 53} s={20}>{d}</Txt>
          </g>
        );
      })}
      <LogTicks x0={x0} x1={x0 + w} decades={4.01} y={top + 4 * rh + 1.5} />
      <line x1={207} x2={228} y1={947.2} y2={947.2} stroke="#5a5a5a" strokeWidth={3.5} />
      <Txt x={237.4} y={953.5} s={20}>Isotype</Txt>
      <line x1={207} x2={228} y1={972.9} y2={972.9} stroke="#e03a2a" strokeWidth={3.5} />
      <Txt x={237.4} y={979.2} s={20}>CD99</Txt>
      <ArrowUp x={37.2} yBot={1061.6} yTip={926} sw={2.6} />
      <Txt x={41} y={1117.9} a="middle" r={-90} s={19}>Histogram</Txt>
      <Txt x={74.5} y={1204.8} s={20}>CD99</Txt>
      <ArrowRight x1={139.7} x2={309.6} y={1197.7} sw={2.6} />
    </g>
  );
}

function PanelJ() {
  const x = d3.scaleLinear().domain([0, 15]).range([440, 710]);
  const y = d3.scaleLinear().domain([0, 20]).range([1177.8, 990.4]);
  const ln = d3.line<number>().x((_, i) => x(jDays[i])).y((d) => y(d));
  const gray = '#5d5d5d', red = '#e5322a';
  return (
    <g>
      <Txt x={364} y={923.8} s={30}>j</Txt>
      <path d={ln(jCD19) || ''} fill="none" stroke={gray} strokeWidth={2.6} />
      <path d={ln(jCD99) || ''} fill="none" stroke={red} strokeWidth={2.6} />
      {jDays.map((d, i) => (
        <g key={i}>
          <ErrV x={x(d)} y1={y(jCD19[i] + jCD19Err[i])} y2={y(jCD19[i] - jCD19Err[i])} c={gray} cw={4.5} sw={2} />
          <ErrV x={x(d)} y1={y(jCD99[i] + jCD99Err[i])} y2={y(jCD99[i] - jCD99Err[i])} c={red} cw={4.5} sw={2} />
          <circle cx={x(d)} cy={y(jCD19[i])} r={4} fill={gray} />
          <rect x={x(d) - 3.6} y={y(jCD99[i]) - 3.6} width={7.2} height={7.2} fill={red} />
        </g>
      ))}
      <YAxis x={440} sc={y} ticks={[0, 5, 10, 15, 20]} tl={5} lo={7} s={19} sw={2.4} />
      <line x1={438.8} x2={710} y1={1177.8} y2={1177.8} stroke="#000" strokeWidth={2.4} />
      {d3.range(0, 16).map((t) => (
        <line key={t} x1={x(t)} x2={x(t)} y1={1177.8} y2={1177.8 + (t % 5 === 0 ? 6.5 : 3.5)} stroke="#000" strokeWidth={2} />
      ))}
      {[0, 5, 10, 15].map((t) => (
        <Txt key={t} x={x(t)} y={1207.8} a="middle" s={19}>{t}</Txt>
      ))}
      <Txt x={572.7} y={1221.5} a="middle" s={19}>Days</Txt>
      <Txt x={376} y={1094.4} a="middle" r={-90} s={18.5}>Fold expansion of</Txt>
      <Txt x={399.5} y={1096.3} a="middle" r={-90} s={18.5}>CAR+ cells</Txt>
      <line x1={454} x2={468} y1={1001.7} y2={1001.7} stroke={gray} strokeWidth={2.6} />
      <circle cx={461} cy={1001.7} r={4} fill={gray} />
      <Txt x={476} y={1008.3} s={19}>CD19 CAR T</Txt>
      <line x1={454} x2={468} y1={1030.4} y2={1030.4} stroke={red} strokeWidth={2.6} />
      <rect x={457.4} y={1026.8} width={7.2} height={7.2} fill={red} />
      <Txt x={476} y={1037} s={19}>CD99 CAR T</Txt>
      <line x1={666.7} x2={666.7} y1={1066.4} y2={1092.3} stroke="#000" strokeWidth={2.8} />
      <Txt x={674} y={1084.4} s={18}>NS</Txt>
    </g>
  );
}

function PanelK() {
  const y = d3.scaleLinear().domain([0, 100]).range([1179, 986]);
  const xc = d3.scalePoint().domain(kCells).range([852.9, 1356.9]);
  const vals = [kT25, kCAR25, kT5, kCAR5];
  const errs = [kT25Err, kCAR25Err, kT5Err, kCAR5Err];
  const cols = ['#2c4ba3', '#e03223', '#7f7f7f', '#c55dc4'];
  const offs = [-27.3, -9.1, 9.1, 27.3];
  const legPos = [[865.5, 989.7], [865.5, 1018.4], [1038.4, 989.7], [1038.4, 1018.4]];
  return (
    <g>
      <Txt x={744} y={925} s={30}>k</Txt>
      {kCells.map((cell, ci) => {
        const c = xc(cell) as number;
        return (
          <g key={cell}>
            {vals.map((v, si) => (
              <Bar key={si} cx={c + offs[si]} w={9.8} v={v[ci]} err={errs[si][ci]} y={y} fill={cols[si]} sw={2.2} cap={5} />
            ))}
          </g>
        );
      })}
      <YAxis x={810.9} sc={y} ticks={[0, 20, 40, 60, 80, 100]} tl={4.5} lo={7} s={19} sw={2.6} />
      <line x1={809.6} x2={1399} y1={1179} y2={1179} stroke="#000" strokeWidth={2.8} />
      {kCells.map((cell, ci) => {
        const c = xc(cell) as number;
        return (
          <g key={'l' + cell}>
            <line x1={c} x2={c} y1={1179} y2={1184} stroke="#000" strokeWidth={2.4} />
            <Txt x={c + 22} y={1205} a="end" r={-17} s={19} c={ci === 6 ? '#e2362b' : '#000'}>{cell}</Txt>
            {ci < 6 && (
              <g>
                <line x1={c - 26.5} x2={c + 26} y1={1125} y2={1125} stroke="#000" strokeWidth={3.2} />
                <Txt x={c} y={1120} a="middle" s={17}>{kSig[ci]}</Txt>
              </g>
            )}
          </g>
        );
      })}
      {(() => {
        const c = xc('MOLT-4') as number;
        return (
          <g>
            <line x1={c - 25.8} x2={c - 8.2} y1={1022.7} y2={1022.7} stroke="#000" strokeWidth={3.2} />
            <Txt x={c - 17} y={1017.5} a="middle" s={15}>***</Txt>
            <line x1={c + 8} x2={c + 25.7} y1={1100} y2={1100} stroke="#000" strokeWidth={3.2} />
            <Txt x={c + 17} y={1094.5} a="middle" s={15}>***</Txt>
          </g>
        );
      })()}
      <Txt x={769} y={1083.8} a="middle" r={-90} s={19}>Specific lysis (%)</Txt>
      {kSeries.map((s, i) => (
        <g key={s}>
          <rect x={legPos[i][0] + 1.1} y={legPos[i][1] + 1.1} width={21.9} height={8.6} fill={cols[i]} stroke="#000" strokeWidth={2.2} />
          <Txt x={legPos[i][0] + 32.8} y={legPos[i][1] + 13} s={19}>{s}</Txt>
        </g>
      ))}
    </g>
  );
}

function SmallBars({ ax, x0, x1, yMax, ticks, cats, tv, te, cv, ce, tCol, cCol, title, titleX, showET, off = 16.3, bw = 21, lo = 7 }: any) {
  const y = d3.scaleLinear().domain([0, yMax]).range([1505, 1341.5]);
  const xc = d3.scalePoint().domain(cats).range([x0, x1]);
  return (
    <g>
      {cats.map((c: string, i: number) => {
        const cx = xc(c) as number;
        return (
          <g key={c}>
            <Bar cx={cx - off} w={bw} v={tv[i]} err={te[i]} y={y} fill={tCol} sw={2.5} cap={10} />
            <Bar cx={cx + off} w={bw} v={cv[i]} err={ce[i]} y={y} fill={cCol} sw={2.5} cap={10} />
            <line x1={cx} x2={cx} y1={y(0)} y2={y(0) + 6} stroke="#000" strokeWidth={2.6} />
            <Txt x={cx} y={1530.5} a="middle" s={19}>{c}</Txt>
          </g>
        );
      })}
      <YAxis x={ax} sc={y} ticks={ticks} tl={5.5} lo={lo} s={19} sw={2.8} dy={0.32} />
      <line x1={ax - 6.5} x2={ax + 168.5} y1={y(0)} y2={y(0)} stroke="#000" strokeWidth={2.8} />
      <Txt x={titleX} y={1353.6} a="end" s={19}>{title}</Txt>
      {showET ? <Txt x={showET} y={1530.5} s={19}>E:T</Txt> : null}
    </g>
  );
}

function PanelL() {
  return (
    <g>
      <Txt x={1} y={1314} s={30}>l</Txt>
      <SmallBars ax={64.2} x0={103.4} x1={192.6} yMax={100} ticks={[0, 25, 50, 75, 100]} cats={lRatios}
        tv={lJurkatT} te={lJurkatTErr} cv={lJurkatCAR} ce={lJurkatCARErr} tCol="#776955" cCol="#26b3a6"
        title="Jurkat" titleX={221.5} showET={45} />
      <SmallBars ax={291.5} x0={331.6} x1={421.2} yMax={50} ticks={[0, 10, 20, 30, 40, 50]} cats={lRatios}
        tv={lCutllT} te={lCutllTErr} cv={lCutllCAR} ce={lCutllCARErr} tCol="#776955" cCol="#26b3a6"
        title="CUTLL-1" titleX={451} showET={0} />
      <Txt x={20} y={1429} a="middle" r={-90} s={19}>Specific lysis (%)</Txt>
      <rect x={193.85} y={1547.85} width={31.2} height={15.5} fill="#776955" stroke="#000" strokeWidth={2.5} />
      <Txt x={240.8} y={1561} s={19}>T</Txt>
      <rect x={294.05} y={1547.85} width={32.1} height={15.5} fill="#26b3a6" stroke="#000" strokeWidth={2.5} />
      <Txt x={342} y={1561} s={19}>CD99 CAR T</Txt>
    </g>
  );
}

function PanelM() {
  const axes = [593.6, 811.8, 1024.3, 1230.9];
  return (
    <g>
      <Txt x={516} y={1314} s={30}>m</Txt>
      {mPatients.map((p, i) => {
        const A = axes[i];
        return (
          <SmallBars key={p} ax={A} x0={A + 43.7} x1={A + 126.5} yMax={mMax[i]} ticks={d3.range(0, mMax[i] + 1, 20)} cats={lRatios}
            tv={mT[i]} te={mTErr[i]} cv={mCAR[i]} ce={mCARErr[i]} tCol="#333333" cCol="#0b80cf"
            title={p} titleX={A + 145.5} showET={i === 0 ? 580 : 0} off={15.3} bw={20.5} lo={5.5} />
        );
      })}
      <Txt x={551} y={1429} a="middle" r={-90} s={19}>Specific lysis (%)</Txt>
      <rect x={1130.25} y={1547.85} width={29.5} height={15.5} fill="#333333" stroke="#000" strokeWidth={2.5} />
      <Txt x={1175.6} y={1561} s={19}>T</Txt>
      <rect x={1229.25} y={1547.85} width={32.5} height={15.5} fill="#0b80cf" stroke="#000" strokeWidth={2.5} />
      <Txt x={1277.4} y={1561} s={19}>CD99 CAR T</Txt>
    </g>
  );
}

export default function App() {
  return (
    <div style={{ position: 'absolute', left: 0, top: 0, width: 1969, height: 2180, background: '#fff' }}>
      <svg width={1969} height={2180} viewBox="0 0 1416 1568" preserveAspectRatio="none" style={{ display: 'block' }} fontFamily={FONT}>
        <rect x={0} y={0} width={1416} height={1568} fill="#fff" />
        <PanelA />
        <PanelB />
        <PanelC />
        <PanelD />
        <PanelE />
        <PanelF />
        <PanelG />
        <PanelH />
        <PanelI />
        <PanelJ />
        <PanelK />
        <PanelL />
        <PanelM />
      </svg>
    </div>
  );
}
